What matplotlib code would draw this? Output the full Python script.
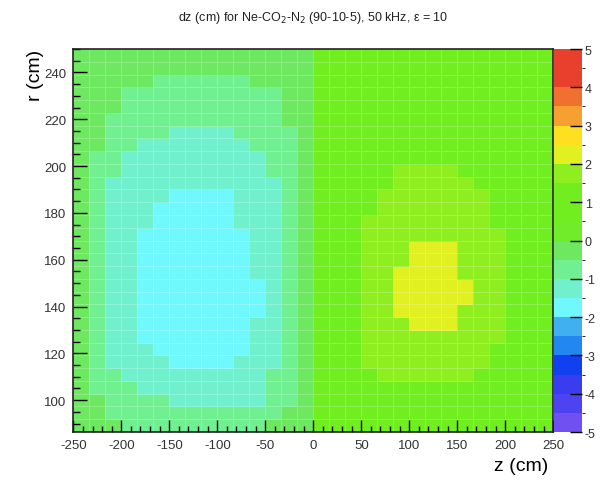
import numpy as np
import matplotlib
matplotlib.use("Agg")
import matplotlib.pyplot as plt
from matplotlib.colors import ListedColormap, BoundaryNorm
from matplotlib.ticker import MultipleLocator

plt.rcParams['font.family'] = ['Liberation Sans', 'DejaVu Sans']
plt.rcParams['axes.unicode_minus'] = False

# bins of the 2D histogram
z_edges = np.linspace(-250, 250, 31)
r_edges = np.linspace(86.4, 250, 31)

# contour levels and ROOT-like palette (bottom -> top)
levels = np.arange(-5, 5.01, 0.5)
level_colors = ['#7050f0', '#4c44f0', '#3a3cf0', '#1040f0', '#2088f0',
                '#40b0f0', '#70f8ff', '#70f0cc', '#70f090', '#6ee860',
                '#70ec2a', '#70ee20', '#72ee20', '#8eee20', '#e0f020',
                '#ffe020', '#f5a030', '#f07030', '#e8402c', '#e8402c']

# dz value per code (cm)
dz_code = {'6': -1.75, '7': -1.25, '8': -0.75, '9': -0.25,
           'b': 0.75, 'd': 1.75, 'e': 2.25}

# rows from top (r ~ 247) to bottom (r ~ 89), left half z<0, right half z>0
left_rows = [
    "999999999999999",
    "999999999999999",
    "999998888889999",
    "999888888888899",
    "999888888888899",
    "998888888888899",
    "998888777788889",
    "998877777778889",
    "988777777777889",
    "988777777777889",
    "987777777777789",
    "987777666677789",
    "987776666677789",
    "987776666677789",
    "987766666667789",
    "987766666667789",
    "987766666667789",
    "987766666667789",
    "987766666666789",
    "987766666666789",
    "987766666666789",
    "987766666667789",
    "987766666667789",
    "987776666667789",
    "987777666677789",
    "988777777777889",
    "988877777777889",
    "998888777777889",
    "998888888888899",
    "999888888888999",
]
right_rows = [
    "bbbbbbbbbbbbbbb",
    "bbbbbbbbbbbbbbb",
    "bbbbbbbbbbbbbbb",
    "bbbbbbbbbbbbbbb",
    "bbbbbbbbbbbbbbb",
    "bbbbbbbbbbbbbbb",
    "bbbbbbbbbbbbbbb",
    "bbbbbbbbbbbbbbb",
    "bbbbbbbbbbbbbbb",
    "bbbbbddddbbbbbb",
    "bbbbbdddddbbbbb",
    "bbbbdddddddbbbb",
    "bbbbdddddddbbbb",
    "bbbddddddddbbbb",
    "bbbdddddddddbbb",
    "bbbdddeeedddbbb",
    "bbbdddeeedddbbb",
    "bbbddeeeedddbbb",
    "bbbddeeeeeddbbb",
    "bbbddeeeeeddbbb",
    "bbbddeeeedddbbb",
    "bbbdddeeedddbbb",
    "bbbdddddddddbbb",
    "bbbddddddddbbbb",
    "bbbddddddddbbbb",
    "bbbbddddddbbbbb",
    "bbbbbbbbbbbbbbb",
    "bbbbbbbbbbbbbbb",
    "bbbbbbbbbbbbbbb",
    "bbbbbbbbbbbbbbb",
]

dz = np.array([[dz_code[c] for c in (a + b)] for a, b in zip(left_rows, right_rows)])
dz = dz[::-1]  # first row = lowest r

fig = plt.figure(figsize=(6.04, 4.85), dpi=100)
ax = fig.add_axes([73.3 / 604, 1 - 433 / 485, 480 / 604, 383 / 485])

cmap = ListedColormap(level_colors)
norm = BoundaryNorm(levels, cmap.N)
mesh = ax.pcolormesh(z_edges, r_edges, dz, cmap=cmap, norm=norm,
                     edgecolors=(1, 1, 1, 0.22), linewidth=0.6)

ax.set_xlim(-250, 250)
ax.set_ylim(r_edges[0], r_edges[-1])
ax.xaxis.set_major_locator(MultipleLocator(50))
ax.xaxis.set_minor_locator(MultipleLocator(10))
ax.yaxis.set_major_locator(MultipleLocator(20))
ax.yaxis.set_minor_locator(MultipleLocator(5))
ax.tick_params(axis='x', which='major', direction='in', length=8.3, width=1, labelsize=9.5, pad=5)
ax.tick_params(axis='x', which='minor', direction='in', length=4.2, width=1)
ax.tick_params(axis='y', which='major', direction='in', length=10.4, width=1, labelsize=9.5, pad=5)
ax.tick_params(axis='y', which='minor', direction='in', length=5.2, width=1)
ax.tick_params(labelcolor='#333333')
for s in ax.spines.values():
    s.set_linewidth(1.2)
    s.set_color('#222222')

cax = fig.add_axes([554 / 604, 1 - 433 / 485, 28 / 604, 383 / 485])
cb = fig.colorbar(mesh, cax=cax, ticks=np.arange(-5, 6, 1))
cb.outline.set_visible(False)
cax.tick_params(direction='in', length=9, width=1, labelsize=9, pad=2, labelcolor='#333333')
cax.set_yticklabels([str(v) for v in range(-5, 6)])

fig.text(313 / 604, 1 - 18 / 485, "dz (cm) for Ne-CO$_2$-N$_2$ (90-10-5), 50 kHz, \u03b5 = 10",
         ha='center', va='center', fontsize=9, color='#222222')
fig.text(36 / 604, 1 - 50 / 485, "r (cm)", rotation=90, ha='center', va='top', fontsize=14)
fig.text(548 / 604, 1 - 467 / 485, "z (cm)", ha='right', va='center', fontsize=14)

fig.savefig("out.png", dpi=100)
